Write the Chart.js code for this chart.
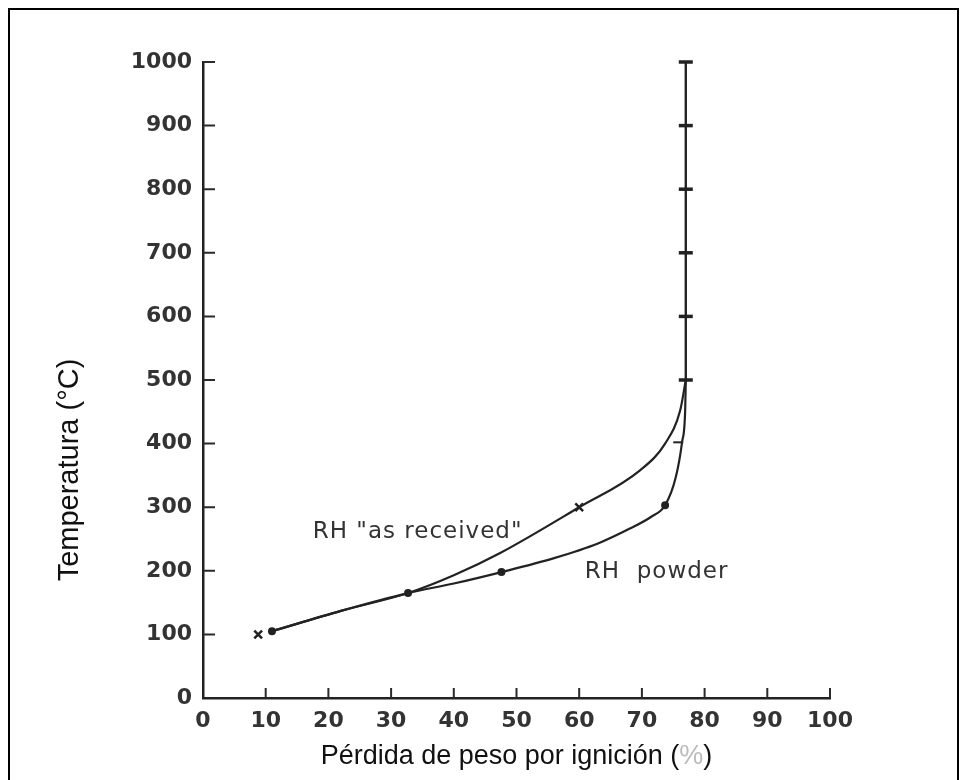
<!DOCTYPE html>
<html>
<head>
<meta charset="utf-8">
<script src="https://cdn.jsdelivr.net/npm/chart.js@4.4.0/dist/chart.umd.min.js"></script>
<style>
  html, body { margin: 0; padding: 0; background: #fff; }
  #wrap { position: relative; width: 968px; height: 780px; overflow: hidden; }
  #frame { position: absolute; left: 8px; top: 8px; width: 947px; height: 800px; border: 2px solid #000; box-sizing: content-box; }
  #chart { position: absolute; left: 0; top: 0; }
</style>
</head>
<body>
<div id="wrap">
  <div id="frame"></div>
  <canvas id="chart" width="968" height="780"></canvas>
</div>
<script>
// ejes
const X_TICKS = [0, 10, 20, 30, 40, 50, 60, 70, 80, 90, 100];
const Y_TICKS = [0, 100, 200, 300, 400, 500, 600, 700, 800, 900, 1000];

// curva RH "as received"
const receivedCurveX = [11, 22, 32.7, 40, 47.4, 60, 69.7, 73.7, 76.1, 77];
const receivedCurveT = [105, 137, 165, 193, 228, 300, 358, 400, 452, 500];
const receivedMarkX = [8.8, 60];
const receivedMarkT = [100, 300];

// curva RH powder
const powderCurveX = [11, 22, 32.7, 40, 47.6, 56, 63, 68, 71.5, 73.7, 75.4, 76.4, 76.9, 77];
const powderCurveT = [105, 137, 165, 180, 198, 220, 243, 266, 285, 303, 347, 402, 452, 500];
const powderMarkX = [11, 32.7, 47.6, 73.7, 75.8];
const powderMarkT = [105, 165, 198, 303, 402];

// tramo vertical común 500-1000 °C
const plateauX = [77, 77, 77, 77, 77, 77];
const plateauT = [500, 600, 700, 800, 900, 1000];

// rótulos de curvas (en unidades de datos)
const curveLabels = ['RH "as received"', 'RH  powder'];
const curveLabelX = [17.5, 60.9];
const curveLabelT = [261, 198];

const Y_TITLE = 'Temperatura (°C)';
// título X en tramos: el "%" aparece en gris claro en el original
const X_TITLE_PARTS = ['Pérdida de peso por ignición (', '%', ')'];
const X_TITLE_COLORS = ['#111', '#bbb', '#111'];

const INK = '#222';
const pts = (xs, ys) => xs.map((x, i) => ({ x, y: ys[i] }));

const innerTicks = {
  id: 'innerTicks',
  afterDraw(chart) {
    const { ctx, scales: { x, y } } = chart;
    ctx.save();
    ctx.strokeStyle = '#2a2a2a';
    ctx.lineWidth = 2;
    ctx.beginPath();
    Y_TICKS.slice(1).forEach(v => {
      const py = y.getPixelForValue(v);
      ctx.moveTo(x.left, py);
      ctx.lineTo(x.left + 12, py);
    });
    X_TICKS.slice(1).forEach(v => {
      const px = x.getPixelForValue(v);
      ctx.moveTo(px, y.bottom);
      ctx.lineTo(px, y.bottom - 10);
    });
    ctx.stroke();

    // rótulos de las curvas
    ctx.font = '23px "DejaVu Sans"';
    ctx.letterSpacing = '1px';
    ctx.fillStyle = '#333';
    ctx.textBaseline = 'middle';
    curveLabels.forEach((t, i) => {
      ctx.fillText(t, x.getPixelForValue(curveLabelX[i]), y.getPixelForValue(curveLabelT[i]));
    });
    ctx.letterSpacing = '0px';

    // título del eje X
    ctx.font = '27px "Liberation Sans"';
    const widths = X_TITLE_PARTS.map(p => ctx.measureText(p).width);
    let tx = (x.left + x.right) / 2 - widths.reduce((a, b) => a + b, 0) / 2;
    X_TITLE_PARTS.forEach((p, i) => {
      ctx.fillStyle = X_TITLE_COLORS[i];
      ctx.fillText(p, tx, 757);
      tx += widths[i];
    });

    // título del eje Y (desplazado hacia abajo como en el original)
    ctx.font = '29px "Liberation Sans"';
    ctx.fillStyle = '#111';
    ctx.textAlign = 'center';
    ctx.translate(70, y.bottom - 228);
    ctx.rotate(-Math.PI / 2);
    ctx.fillText(Y_TITLE, 0, 0);
    ctx.restore();
  }
};

new Chart(document.getElementById('chart'), {
  type: 'scatter',
  data: {
    datasets: [
      {
        data: pts(receivedCurveX, receivedCurveT),
        showLine: true, borderColor: INK, borderWidth: 2.2,
        cubicInterpolationMode: 'monotone', pointRadius: 0
      },
      {
        data: pts(powderCurveX, powderCurveT),
        showLine: true, borderColor: INK, borderWidth: 2.2,
        cubicInterpolationMode: 'monotone', pointRadius: 0
      },
      {
        data: pts(plateauX, plateauT),
        showLine: true, borderColor: INK, borderWidth: 2.4, tension: 0, clip: false,
        pointStyle: 'line', pointRadius: 7, pointBorderWidth: 3.5, pointBorderColor: INK
      },
      {
        data: pts(receivedMarkX, receivedMarkT),
        showLine: false, pointStyle: 'crossRot', pointRadius: 5.5,
        pointBorderWidth: 2.5, pointBorderColor: INK
      },
      {
        data: pts(powderMarkX, powderMarkT),
        showLine: false, pointStyle: ['circle', 'circle', 'circle', 'circle', 'line'],
        pointRadius: [3, 3, 3, 3, 5], pointBorderWidth: 2,
        pointBackgroundColor: INK, pointBorderColor: INK
      }
    ]
  },
  options: {
    responsive: false,
    animation: false,
    layout: { padding: { left: 0, top: 62, right: 138, bottom: 0 } },
    plugins: { legend: { display: false }, tooltip: { enabled: false } },
    scales: {
      x: {
        type: 'linear', min: 0, max: 100,
        afterBuildTicks: s => { s.ticks = X_TICKS.map(v => ({ value: v })); },
        afterFit: s => { s.height = 82; },
        ticks: {
          color: '#333', font: { family: 'DejaVu Sans', size: 22, weight: 'bold' },
          padding: 10, maxRotation: 0, callback: v => String(v)
        },
        grid: { display: false, drawTicks: false },
        border: { display: true, color: INK, width: 2.5 },
        title: { display: false }
      },
      y: {
        type: 'linear', min: 0, max: 1000,
        afterBuildTicks: s => { s.ticks = Y_TICKS.map(v => ({ value: v })); },
        afterFit: s => { s.width = 203; },
        ticks: {
          color: '#333', font: { family: 'DejaVu Sans', size: 22, weight: 'bold' },
          padding: 11, callback: v => String(v)
        },
        grid: { display: false, drawTicks: false },
        border: { display: true, color: INK, width: 2.5 },
        title: { display: false }
      }
    }
  },
  plugins: [innerTicks]
});
</script>
</body>
</html>
